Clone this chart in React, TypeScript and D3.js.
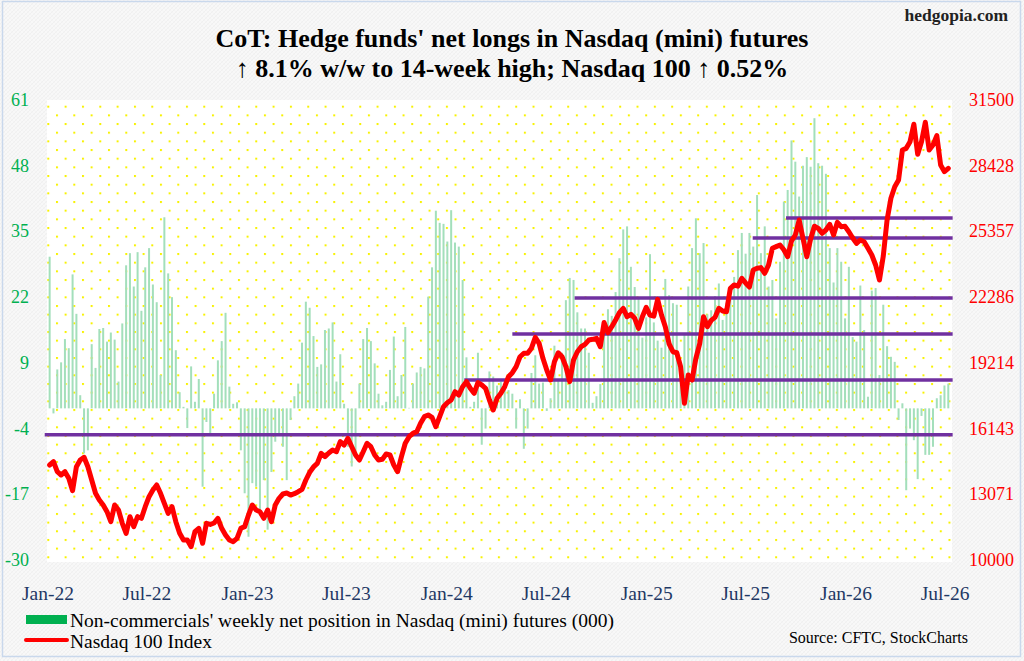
import React from 'react';
import * as d3 from 'd3';

// ---------- data ----------
const START_DATE = '2022-01-04';

const netPositions: number[] = [
  30, -1, 7.7, 9.1, 13.7, 11.9, 26.5, 18.7, 2.6, -8.9,
  -8.3, 12.7, 8, 15.7, 15.9, 13.2, 15, 13.6, 5.3, 16.8,
  28.3, 30.7, 24.1, 30.9, 19.3, 27.9, 31.7, 24.5, 21, 6.6,
  37.8, 26.7, 22, 11.5, 3.2, 0.3, -3.9, 8.3, 1.3, 5.8,
  -15.5, -2.7, -5, 2.9, 9.5, 13.3, 18.9, 4.3, 0.9, 1.2,
  -8.3, -16.8, -25.4, -14.8, -15.5, -21, -14.2, -24, -12.6, -6.6,
  -5, -7.6, -14.2, -2.3, 2.4, 4.9, 13, 21.1, 19.9, 14.3,
  8.2, 8.7, 15.5, 15.8, 17, 5.3, 10.7, 0.9, -7.6, -11.5,
  -9.9, 4.9, 13.7, 15.9, 13.3, 8.9, 2.9, 0.6, 1.3, 7.6,
  14.2, 2.4, 6.6, 16.1, 0.1, 4.9, 7.1, 8.2, 7.9, 22.1,
  27.9, 39.1, 36.7, 36.5, 33, 39.2, 32.8, 32, 25.4, 10.1,
  0.3, 1.3, 11, -7.2, -4, 7.3, 6.3, 4.5, 5.3, 4.6,
  3.6, 2.9, -4, 1.8, -8, -4, 7, 10.5, 4.9, 5.1,
  -0.5, 2, 12.4, 5.6, 11, 21.4, 25.8, 25.4, 19, 15.8,
  15.8, 11, 1.1, 2.4, 4.8, 17.1, 19.6, 18.3, 23, 29.7,
  35.4, 36, 28, 24, 22, 14, 18, 30.5, 17, 13.4,
  12, 25.6, 22.4, 20.8, 20.5, 9, 14.8, 24.1, 31.7, 37.6,
  30.7, 32.7, 18.6, 19.4, 22.2, 24.7, 17.5, 20.9, 21.5, 26,
  31.3, 34.7, 30.6, 34.7, 32, 42.2, 30.7, 36, 24.1, 25.4,
  17.8, 29, 40.9, 43.2, 53, 48.8, 41.9, 48, 49.7, 47.8,
  57.4, 48.5, 48, 46.4, 31.7, 24.9, 31.7, 29, 17.8, 28,
  14.1, 13.2, 24.3, 15.5, 2.3, 23.3, 23.8, 6.6, 20.5, 12.3,
  10.2, 9.2, -2.3, 1, -16.2, -4, -6.3, -14, -1.5, -9.2,
  -9.2, -7.6, 2, 2.6, 4.53, 4.9,
];

const nasdaq100: number[] = [
  14440, 14595, 14127, 13973, 14127, 13818, 13240, 14360, 14674, 14800,
  14360, 13739, 13117, 12804, 12570, 12257, 11790, 12570, 12337, 11715,
  11247, 12024, 11560, 12024, 11948, 12492, 12960, 13271, 13505, 13117,
  12650, 12180, 12492, 11790, 11247, 10934, 10934, 10622, 11325, 11480,
  10780, 11715, 11660, 11730, 11948, 11480, 11168, 10934, 10856, 11013,
  11480, 11560, 12103, 12570, 12337, 12257, 11948, 12337, 11790, 12570,
  12882, 13084, 13130, 13037, 13100, 13193, 13303, 13739, 14100, 14350,
  14518, 14985, 14830, 15000, 15140, 15063, 15530, 15375, 15687, 15296,
  14907, 14674, 15063, 15454, 15296, 14907, 14674, 14705, 14954, 14907,
  14440, 14127, 14830, 15454, 15765, 15921, 15998, 16389, 16700, 16778,
  16668, 16230, 16700, 17165, 17352, 17478, 17866, 17712, 18100, 18334,
  18025, 17790, 18287, 18180, 18025, 17478, 17010, 17556, 17790, 18100,
  18567, 18754, 19035, 19500, 19660, 19660, 19900, 20408, 20128, 19427,
  18880, 18413, 19270, 19688, 19500, 19035, 18334, 19350, 19735, 19970,
  20080, 20280, 20315, 20360, 19970, 21100, 20628, 20905, 21217, 21560,
  21763, 21372, 21484, 21295, 20828, 21372, 21810, 21450, 21400, 22180,
  21450, 20905, 20100, 19735, 19688, 19035, 17323, 18647, 18413, 19427,
  20110, 21372, 20905, 21200, 21340, 21763, 21637, 21600, 22700, 22853,
  22800, 23166, 22950, 22760, 23554, 23634, 23665, 23400, 23788, 24568,
  24645, 24723, 24500, 24177, 24910, 25190, 25890, 25036, 24177, 25000,
  25600, 25500, 25268, 25424, 25690, 25190, 25783, 25580, 25595, 25345,
  25050, 24800, 24957, 24878, 24568, 24255, 23788, 23087, 24200, 25900,
  26905, 27448, 27760, 29163, 29240, 29553, 30364, 28962, 29553, 30457,
  29163, 29397, 29833, 28462, 28150, 28307,
];

const leftTicks = [-30, -17, -4, 9, 22, 35, 48, 61];
const rightTicks = [10000, 13071, 16143, 19214, 22286, 25357, 28428, 31500];

const levelValues = [15850, 18413, 20563, 22246, 25050, 25985];
const levelStarts = ['2021-12-26', '2024-02-02', '2024-04-30', '2024-08-22', '2025-07-14', '2025-09-13'];
const LEVEL_END = '2026-07-15';

const titleLine1 = "CoT: Hedge funds' net longs in Nasdaq (mini) futures";
const titleLine2 = '\u2191 8.1% w/w to 14-week high; Nasdaq 100 \u2191 0.52%';
const legendBars = "Non-commercials' weekly net position in Nasdaq (mini) futures (000)";
const legendLine = 'Nasdaq 100 Index';
const sourceText = 'Source: CFTC, StockCharts';
const siteText = 'hedgopia.com';

// ---------- layout ----------
const W = 1024;
const H = 661;
const PL = 47, PR = 952, PT = 100, PB = 562;
const FONT = "'Liberation Serif', 'Times New Roman', serif";

const parse = d3.timeParse('%Y-%m-%d');

export default function App() {
  const start = parse(START_DATE)!;
  const dates = netPositions.map((_, i) => d3.timeWeek.offset(start, i));

  const x = d3.scaleTime()
    .domain([new Date(2022, 0, 1), new Date(2026, 6, 1)])
    .range([48, 945]);
  const yL = d3.scaleLinear().domain([-30, 61]).range([560, 100]);
  const yR = d3.scaleLinear().domain([10000, 31500]).range([560, 100]);

  const xTicks = d3.timeMonth.every(6)!.range(new Date(2022, 0, 1), new Date(2026, 6, 2));
  const fmt = d3.timeFormat('%b-%y');

  const line = d3.line<number>()
    .x((_, i) => x(dates[i]))
    .y((d) => yR(d))
    .curve(d3.curveLinear);

  const levelEnd = parse(LEVEL_END)!;

  return (
    <div>
      <style>{`body{margin:0;}`}</style>
      <svg width={W} height={H} style={{ display: 'block' }} fontFamily={FONT}>
        <defs>
          <pattern id="bgtex" width="4" height="4" patternUnits="userSpaceOnUse">
            <rect width="4" height="4" fill="#f8f8f8" />
            <path d="M0,4 L4,0" stroke="#ededed" strokeWidth="0.8" />
            <path d="M0,0 L4,4" stroke="#f1f1f1" strokeWidth="0.6" />
          </pattern>
          <pattern id="dots" x={47.3} y={105.7} width={17.33} height={17.33} patternUnits="userSpaceOnUse">
            <rect x={0} y={0} width={2} height={2} fill="#f7f200" />
            <rect x={8.67} y={8.67} width={2} height={2} fill="#f7f200" />
          </pattern>
        </defs>

        {/* background */}
        <rect x={0} y={0} width={W} height={H} fill="url(#bgtex)" />
        <rect x={2.5} y={1.5} width={1018} height={655} fill="none" stroke="#c9d8ec" strokeWidth={1.5} />

        {/* plot area */}
        <rect x={PL} y={PT} width={PR - PL} height={PB - PT} fill="#ffffff" />
        <rect x={PL} y={PT} width={PR - PL} height={PB - PT} fill="url(#dots)" />

        {/* bars */}
        <g fill="#a3dfbb">
          {netPositions.map((v, i) => {
            const y0 = yL(0);
            const y1 = yL(v);
            return (
              <rect key={i} x={x(dates[i]) - 1} width={2}
                y={Math.min(y0, y1)} height={Math.max(0.5, Math.abs(y1 - y0))} />
            );
          })}
        </g>

        {/* support / resistance levels */}
        <g stroke="#7030a0" strokeWidth={3.5}>
          {levelValues.map((lv, i) => (
            <line key={i} x1={x(parse(levelStarts[i])!)} x2={x(levelEnd)} y1={yR(lv)} y2={yR(lv)} />
          ))}
        </g>

        {/* Nasdaq line */}
        <path d={line(nasdaq100) || ''} fill="none" stroke="#ff0000" strokeWidth={5}
          strokeLinejoin="round" strokeLinecap="round" />

        {/* left axis */}
        <g fill="#00b050" fontSize={18} textAnchor="end">
          {leftTicks.map((t) => (
            <text key={t} x={29} y={yL(t) + 6}>{t}</text>
          ))}
        </g>

        {/* right axis */}
        <g fill="#ff0000" fontSize={18} textAnchor="start">
          {rightTicks.map((t) => (
            <text key={t} x={969} y={yR(t) + 6}>{t}</text>
          ))}
        </g>

        {/* x axis */}
        <g fill="#1f3864" fontSize={19.5} textAnchor="middle">
          {xTicks.map((d, i) => (
            <text key={i} x={x(d)} y={600}>{fmt(d)}</text>
          ))}
        </g>

        {/* titles */}
        <text x={512} y={47} textAnchor="middle" fontSize={26} fontWeight="bold" fill="#000">{titleLine1}</text>
        <text x={512} y={77} textAnchor="middle" fontSize={26} fontWeight="bold" fill="#000">{titleLine2}</text>
        <text x={1008} y={21} textAnchor="end" fontSize={17.5} fontWeight="bold" fill="#222">{siteText}</text>

        {/* legend */}
        <rect x={26} y={615} width={41} height={9} fill="#00b050" />
        <text x={70} y={627} fontSize={19.5} fill="#000">{legendBars}</text>
        <line x1={26} x2={67} y1={640} y2={640} stroke="#ff0000" strokeWidth={4} strokeLinecap="round" />
        <text x={70} y={648} fontSize={19.5} fill="#000">{legendLine}</text>

        <text x={968} y={643} textAnchor="end" fontSize={16} fill="#000">{sourceText}</text>
      </svg>
    </div>
  );
}
